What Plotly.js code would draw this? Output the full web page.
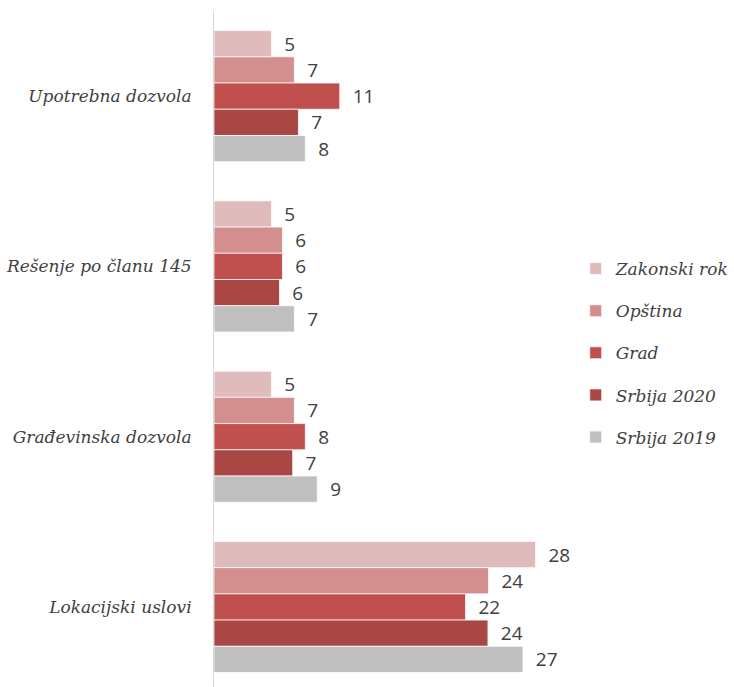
<!DOCTYPE html>
<html>
<head>
<meta charset="utf-8">
<script src="https://cdn.plot.ly/plotly-3.0.1.min.js"></script>
<style>html,body{margin:0;padding:0;background:#fff;}#chart{width:734px;height:687px;}</style>
</head>
<body>
<div id="chart"></div>
<script>
const categories = ["Upotrebna dozvola", "Rešenje po članu 145", "Građevinska dozvola", "Lokacijski uslovi"];
const seriesNames = ["Zakonski rok", "Opština", "Grad", "Srbija 2020", "Srbija 2019"];
const zakonskiRok = [5, 5, 5, 28];
const opstina = [7.0, 5.96, 7.0, 23.9];
const grad = [10.95, 5.96, 7.95, 21.9];
const srbija2020 = [7.35, 5.7, 6.85, 23.85];
const srbija2019 = [7.95, 7.0, 8.99, 26.9];
const seriesValues = [zakonskiRok, opstina, grad, srbija2020, srbija2019];
const colors = ["#E0BBBB", "#D38E8E", "#C0504D", "#A94744", "#BFBFBF"];

const traces = seriesNames.map((name, i) => ({
  type: "bar",
  orientation: "h",
  name: name,
  legendgroup: "g" + i,
  y: categories,
  x: seriesValues[i],
  marker: {color: colors[i], line: {color: "#ffffff", width: 0.75}},
  texttemplate: "\u00a0\u00a0%{x:.0f}",
  textposition: "outside",
  cliponaxis: false,
  textfont: {family: "Open Sans, Liberation Sans, sans-serif", size: 19, color: "#404040"},
  hoverinfo: "skip"
}));

const layout = {
  width: 734,
  height: 687,
  margin: {l: 214, r: 144, t: 11, b: 0},
  paper_bgcolor: "#ffffff",
  plot_bgcolor: "#ffffff",
  barmode: "group",
  bargap: 0.23,
  bargroupgap: 0,
  showlegend: true,
  legend: {
    x: 0.975, xanchor: "left", y: 0.494, yanchor: "middle",
    font: {family: "DejaVu Serif, serif", size: 17, color: "#404040", style: "italic"},
    traceorder: "grouped",
    tracegroupgap: 17,
    itemwidth: 30
  },
  xaxis: {
    range: [0, 32.3],
    visible: false,
    showgrid: false,
    zeroline: false
  },
  yaxis: {
    type: "category",
    range: [3.47, -0.5],
    showline: true,
    linecolor: "#D9D9D9",
    linewidth: 1,
    ticks: "",
    ticklabelstandoff: 18,
    showgrid: false,
    zeroline: false,
    tickfont: {family: "DejaVu Serif, serif", size: 17, color: "#404040", style: "italic"}
  }
};

Plotly.newPlot("chart", traces, layout, {displayModeBar: false, staticPlot: true});
</script>
</body>
</html>
